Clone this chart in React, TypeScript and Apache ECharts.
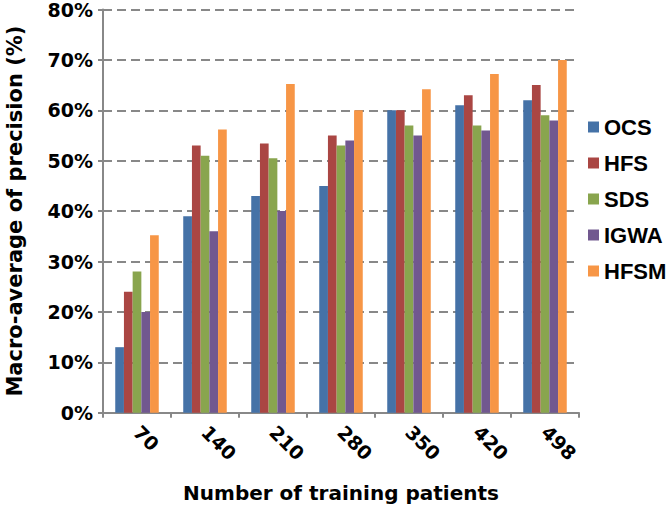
import React, { useEffect, useRef } from "react";
import * as echarts from "echarts";

const categories = ["70", "140", "210", "280", "350", "420", "498"];
const seriesNames = ["OCS", "HFS", "SDS", "IGWA", "HFSM"];
const ocs = [13, 39, 43, 45, 60, 61, 62];
const hfs = [24, 53, 53.4, 55, 60, 63, 65];
const sds = [28, 51, 50.5, 53, 57, 57, 59];
const igwa = [20, 36, 40, 54, 55, 56, 58];
const hfsm = [35.2, 56.2, 65.2, 60, 64.2, 67.2, 70];
const colors = ["#4572A7", "#AA4643", "#89A54E", "#71588F", "#F79646"];

export default function App() {
  const ref = useRef<HTMLDivElement>(null);
  useEffect(() => {
    const chart = echarts.init(ref.current!, null, { renderer: "svg" });
    const data = [ocs, hfs, sds, igwa, hfsm];
    const font = "DejaVu Sans, sans-serif";
    const legendFont = "Liberation Sans, Arial, sans-serif";
    chart.setOption({
      animation: false,
      textStyle: { fontFamily: font },
      grid: { left: 103, right: 87, top: 9.5, bottom: 96.3, outerBoundsMode: "none", containLabel: false },
      legend: {
        orient: "vertical",
        left: 583,
        top: 111,
        itemWidth: 11,
        itemHeight: 11,
        itemGap: 14,
        icon: "rect",
        data: seriesNames,
        textStyle: { fontSize: 22, fontWeight: "bold", color: "#000", fontFamily: legendFont },
      },
      xAxis: {
        type: "category",
        data: categories,
        name: "Number of training patients",
        nameLocation: "middle",
        nameGap: 70,
        nameTextStyle: { fontSize: 20, fontWeight: "bold", color: "#000", fontFamily: font },
        axisLine: { lineStyle: { color: "#888", width: 2 } },
        axisTick: { show: true, length: 5, lineStyle: { color: "#888", width: 2 } },
        axisLabel: { rotate: -45, fontSize: 19, fontWeight: "bold", color: "#000", margin: 16, fontFamily: font },
      },
      yAxis: {
        type: "value",
        min: 0,
        max: 80,
        interval: 10,
        name: "Macro-average of precision (%)",
        nameLocation: "middle",
        nameGap: 78,
        nameTextStyle: { fontSize: 21, fontWeight: "bold", color: "#000", fontFamily: font },
        axisLine: { show: true, lineStyle: { color: "#888", width: 2 } },
        axisTick: { show: true, length: 5, lineStyle: { color: "#888", width: 2 } },
        axisLabel: { formatter: "{value}%", fontSize: 19, fontWeight: "bold", color: "#000", margin: 10, fontFamily: font },
        splitLine: { lineStyle: { color: "#888", type: [9, 5], width: 2 } },
      },
      series: seriesNames.map((n, i) => ({
        name: n,
        type: "bar",
        data: data[i],
        itemStyle: { color: colors[i] },
        barGap: "0%",
        barCategoryGap: "36%",
      })),
    });
    return () => chart.dispose();
  }, []);
  return (
    <div
      ref={ref}
      style={{ position: "absolute", left: 0, top: 0, width: 666, height: 509 }}
    />
  );
}
